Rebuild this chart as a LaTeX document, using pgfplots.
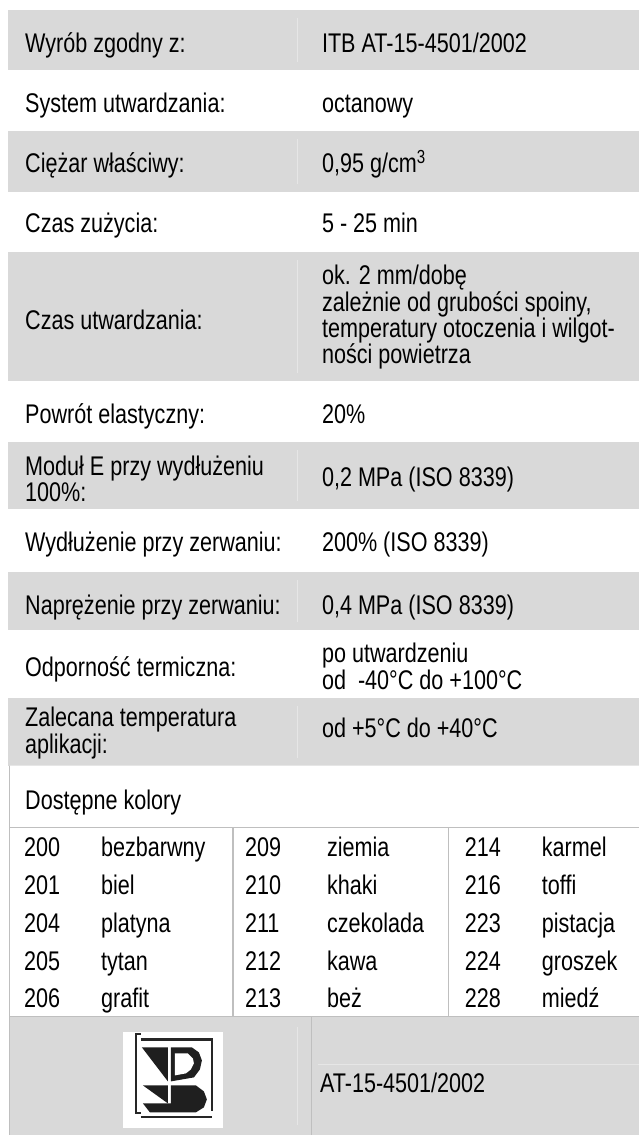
\documentclass[border=0pt]{standalone}
\usepackage{pgfplots}
\pgfplotsset{compat=1.18}
\usepackage{fontspec}
\setmainfont[FakeStretch=0.80]{Liberation Sans}
\definecolor{rowgray}{HTML}{D9D9D9}
\definecolor{linegray}{HTML}{BFBFBF}
\definecolor{faint}{HTML}{E6E6E6}
\begin{document}
\begin{tikzpicture}[every node/.style={font=\fontsize{27}{29}\selectfont, inner sep=0pt, text=black}]
\begin{axis}[width=639pt, height=1136pt, scale only axis,
  xmin=0, xmax=639, ymin=0, ymax=1136, y dir=reverse,
  hide axis, clip=false]
% background
\addplot[fill=white, draw=none] coordinates {(0,0) (639,0) (639,1136) (0,1136)} --cycle;
% gray rows
\addplot[fill=rowgray, draw=none] coordinates {(8,10) (639,10) (639,70) (8,70)} --cycle;
\addplot[fill=rowgray, draw=none] coordinates {(8,131) (639,131) (639,192) (8,192)} --cycle;
\addplot[fill=rowgray, draw=none] coordinates {(8,252) (639,252) (639,381) (8,381)} --cycle;
\addplot[fill=rowgray, draw=none] coordinates {(8,442) (639,442) (639,509) (8,509)} --cycle;
\addplot[fill=rowgray, draw=none] coordinates {(8,572) (639,572) (639,630) (8,630)} --cycle;
\addplot[fill=rowgray, draw=none] coordinates {(8,698) (639,698) (639,766) (8,766)} --cycle;
\addplot[fill=rowgray, draw=none] coordinates {(10,1017) (639,1017) (639,1136) (10,1136)} --cycle;
% faint separators in gray rows
\addplot[faint, line width=1pt] coordinates {(298,18) (298,62)};
\addplot[faint, line width=1pt] coordinates {(298,139) (298,184)};
\addplot[faint, line width=1pt] coordinates {(298,260) (298,373)};
\addplot[faint, line width=1pt] coordinates {(298,450) (298,501)};
\addplot[faint, line width=1pt] coordinates {(298,580) (298,622)};
\addplot[faint, line width=1pt] coordinates {(298,706) (298,758)};
\addplot[faint, line width=1pt] coordinates {(298,1028) (298,1126)};
\addplot[faint, line width=1pt] coordinates {(318,1065) (639,1065)};
\addplot[faint, line width=1pt] coordinates {(10,766) (639,766)};
% grid lines of the colour block
\addplot[linegray, line width=1.3pt] coordinates {(9.5,766) (9.5,1136)};
\addplot[linegray, line width=1.3pt] coordinates {(9.5,828) (639,828)};
\addplot[linegray, line width=1.3pt] coordinates {(9.5,1017) (639,1017)};
\addplot[linegray, line width=1.3pt] coordinates {(233,828) (233,1017)};
\addplot[linegray, line width=1.3pt] coordinates {(449,828) (449,1017)};
\addplot[linegray, line width=1.3pt] coordinates {(312,1017) (312,1136)};
% logo
\addplot[fill=white, draw=none] coordinates {(123,1033) (223,1033) (223,1129) (123,1129)} --cycle;
\addplot[black!85, line width=2pt] coordinates {(141,1035) (136,1035) (136,1114) (141,1114)};
\addplot[black!85, line width=2.5pt] coordinates {(141,1040) (212,1040) (212,1112)};
\addplot[black!85, line width=2pt] coordinates {(141,1118) (212,1118)};
\addplot[fill=black!88, draw=none] coordinates {(142,1048) (168,1048) (168,1082)} --cycle;
\addplot[fill=black!88, draw=none] coordinates {(171,1048) (192,1048) (199,1053) (202,1061) (200,1070) (194,1078) (171,1082)} --cycle;
\addplot[fill=white, draw=none] coordinates {(175,1054) (188,1054) (193,1059) (194,1064) (191,1070) (186,1074) (175,1076)} --cycle;
\addplot[fill=black!88, draw=none] coordinates {(143,1086) (168,1086) (168,1104)} --cycle;
\addplot[fill=black!88, draw=none] coordinates {(171,1086) (196,1086) (204,1092) (207,1100) (204,1108) (196,1113) (150,1113) (143,1104) (171,1104)} --cycle;
% left column
\node[anchor=base west] at (axis cs:25,53) {Wyrób zgodny z:};
\node[anchor=base west] at (axis cs:25,113) {System utwardzania:};
\node[anchor=base west] at (axis cs:25,173) {Ciężar właściwy:};
\node[anchor=base west] at (axis cs:25,233) {Czas zużycia:};
\node[anchor=base west] at (axis cs:25,330) {Czas utwardzania:};
\node[anchor=base west] at (axis cs:25,424) {Powrót elastyczny:};
\node[anchor=base west] at (axis cs:25,476) {Moduł E przy wydłużeniu};
\node[anchor=base west] at (axis cs:25,502) {100\%:};
\node[anchor=base west] at (axis cs:25,552) {Wydłużenie przy zerwaniu:};
\node[anchor=base west] at (axis cs:25,615) {Naprężenie przy zerwaniu:};
\node[anchor=base west] at (axis cs:25,677) {Odporność termiczna:};
\node[anchor=base west] at (axis cs:25,727) {Zalecana temperatura};
\node[anchor=base west] at (axis cs:25,754) {aplikacji:};
\node[anchor=base west] at (axis cs:25,810) {Dostępne kolory};
% right column
\node[anchor=base west] at (axis cs:322,53) {ITB AT-15-4501/2002};
\node[anchor=base west] at (axis cs:322,113) {octanowy};
\node[anchor=base west] at (axis cs:322,173) {0,95 g/cm\textsuperscript{3}};
\node[anchor=base west] at (axis cs:322,233) {5 - 25 min};
\node[anchor=base west] at (axis cs:322,285) {ok. 2 mm/dobę};
\node[anchor=base west] at (axis cs:322,312) {zależnie od grubości spoiny,};
\node[anchor=base west] at (axis cs:322,338) {temperatury otoczenia i wilgot-};
\node[anchor=base west] at (axis cs:322,364) {ności powietrza};
\node[anchor=base west] at (axis cs:322,424) {20\%};
\node[anchor=base west] at (axis cs:322,487) {0,2 MPa (ISO 8339)};
\node[anchor=base west] at (axis cs:322,552) {200\% (ISO 8339)};
\node[anchor=base west] at (axis cs:322,615) {0,4 MPa (ISO 8339)};
\node[anchor=base west] at (axis cs:322,663) {po utwardzeniu};
\node[anchor=base west] at (axis cs:322,690) {od \ -40°C do +100°C};
\node[anchor=base west] at (axis cs:322,738) {od +5°C do +40°C};
\node[anchor=base west] at (axis cs:320,1093) {AT-15-4501/2002};
% colours
\node[anchor=base west] at (axis cs:24,857) {200};  \node[anchor=base west] at (axis cs:101,857) {bezbarwny};
\node[anchor=base west] at (axis cs:24,895) {201};  \node[anchor=base west] at (axis cs:101,895) {biel};
\node[anchor=base west] at (axis cs:24,933) {204};  \node[anchor=base west] at (axis cs:101,933) {platyna};
\node[anchor=base west] at (axis cs:24,971) {205};  \node[anchor=base west] at (axis cs:101,971) {tytan};
\node[anchor=base west] at (axis cs:24,1008) {206}; \node[anchor=base west] at (axis cs:101,1008) {grafit};
\node[anchor=base west] at (axis cs:245,857) {209};  \node[anchor=base west] at (axis cs:327,857) {ziemia};
\node[anchor=base west] at (axis cs:245,895) {210};  \node[anchor=base west] at (axis cs:327,895) {khaki};
\node[anchor=base west] at (axis cs:245,933) {211};  \node[anchor=base west] at (axis cs:327,933) {czekolada};
\node[anchor=base west] at (axis cs:245,971) {212};  \node[anchor=base west] at (axis cs:327,971) {kawa};
\node[anchor=base west] at (axis cs:245,1008) {213}; \node[anchor=base west] at (axis cs:327,1008) {beż};
\node[anchor=base west] at (axis cs:465,857) {214};  \node[anchor=base west] at (axis cs:542,857) {karmel};
\node[anchor=base west] at (axis cs:465,895) {216};  \node[anchor=base west] at (axis cs:542,895) {toffi};
\node[anchor=base west] at (axis cs:465,933) {223};  \node[anchor=base west] at (axis cs:542,933) {pistacja};
\node[anchor=base west] at (axis cs:465,971) {224};  \node[anchor=base west] at (axis cs:542,971) {groszek};
\node[anchor=base west] at (axis cs:465,1008) {228}; \node[anchor=base west] at (axis cs:542,1008) {miedź};
\end{axis}
\end{tikzpicture}
\end{document}
